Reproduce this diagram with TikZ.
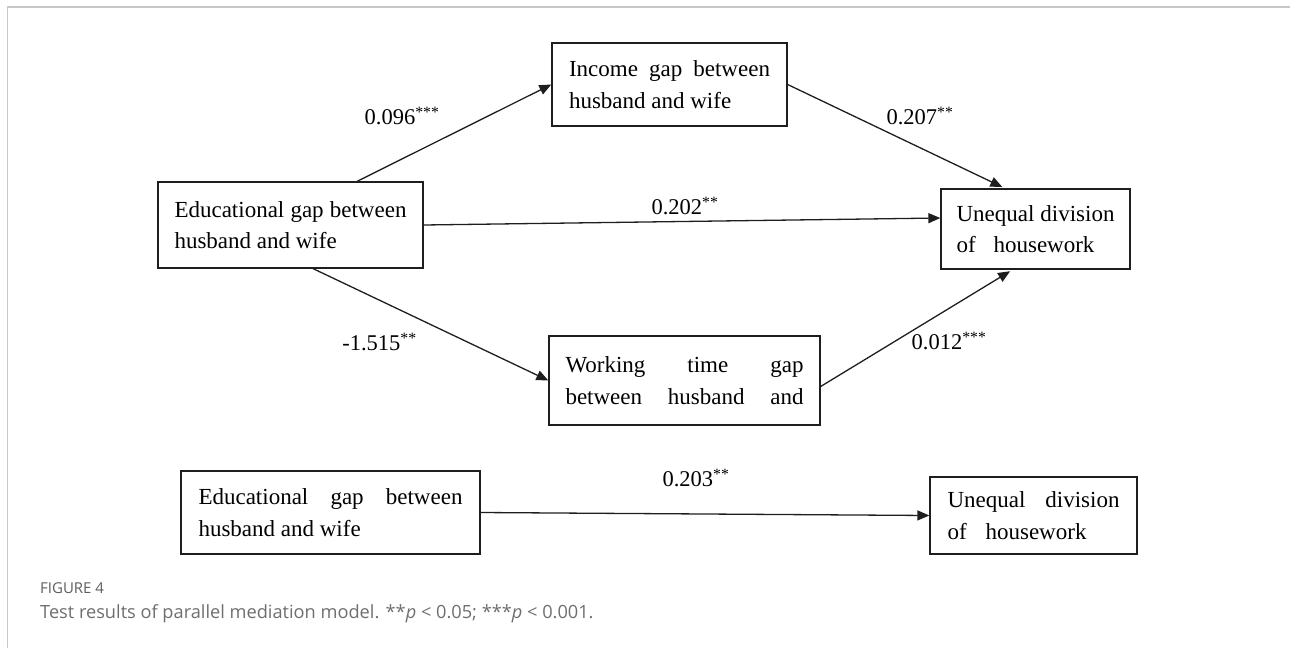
\documentclass[tikz,border=0pt]{standalone}
\usepackage{fontspec}
\setmainfont{Liberation Serif}
\newfontfamily\legendefont{Open Sans}
\usetikzlibrary{arrows.meta,calc}
\definecolor{trait}{HTML}{1E1E1E}
\definecolor{cadre}{HTML}{C8C8C8}
\definecolor{legende}{HTML}{6E6E6E}
\newcommand\etire[2]{\makebox[#1][s]{#2}}

\tikzset{boite/.style 2 args = {draw = trait, line width = 1.3pt, rectangle,
                                minimum width = #1, minimum height = #2,
                                inner sep = 0pt, align = left,
                                font = \fontsize{23}{31.5}\selectfont},
         fleche/.style = {draw = trait, line width = 1.3pt,
                          -{Triangle[length=12pt,width=10pt]}},
         coef/.style = {font = \fontsize{22.5}{26}\selectfont, inner sep = 0pt},
         legende/.style = {anchor = base west, text = legende, inner sep = 0pt}
        }

\begin{document}
\begin{tikzpicture}[x=1pt, y=-1pt]
  \useasboundingbox (0,0) rectangle (1290,648);
  \draw[cadre, line width = 1.2pt] (7.5,648) -- (7.5,7) -- (1290,7);

  \node[boite={265pt}{86pt}] (E1) at (290.5,225)
       {\etire{232pt}{Educational gap between}\\husband and wife};
  \node[boite={235pt}{83pt}] (M1) at (669.5,84.5)
       {\etire{201pt}{Income gap between}\\husband and wife};
  \node[boite={189pt}{80pt}] (Y1) at (1035.5,229)
       {\etire{158pt}{Unequal division}\\\etire{138pt}{of housework}};
  \node[boite={271pt}{89pt}] (M2) at (684.5,380.5)
       {\etire{238pt}{Working time gap}\\\etire{238pt}{between husband and}};
  \node[boite={299pt}{83pt}] (E2) at (330.5,512.5)
       {\etire{264pt}{Educational gap between}\\husband and wife};
  \node[boite={207pt}{77pt}] (Y2) at (1033.5,515.5)
       {\etire{172pt}{Unequal division}\\\etire{139pt}{of housework}};

  \draw[fleche] ($(E1.north west)!0.75!(E1.north east)$) -- (M1.west);
  \draw[fleche, shorten >= 3pt] (M1.east) -- ($(Y1.north west)!0.34!(Y1.north east)$);
  \draw[fleche] (E1.east) -- ([yshift=11pt]Y1.west);
  \draw[fleche] ($(E1.south west)!0.585!(E1.south east)$) -- (M2.west);
  \draw[fleche, shorten >= 3pt] ([yshift=-6pt]M2.east) -- ($(Y1.south west)!0.38!(Y1.south east)$);
  \draw[fleche] (E2.east) -- (Y2.west);

  \node[coef] (c1) at (402,116) {0.096\textsuperscript{***}};
  \node[coef] (c2) at (920,116) {0.207\textsuperscript{**}};
  \node[coef] (c3) at (685,206) {0.202\textsuperscript{**}};
  \node[coef] (c4) at (379.5,342) {-1.515\textsuperscript{**}};
  \node[coef] (c5) at (949,341) {0.012\textsuperscript{***}};
  \node[coef] (c6) at (696,478) {0.203\textsuperscript{**}};

  \node[legende, font = \legendefont\fontsize{15}{18}\selectfont, text = legende!85!black] (fig) at (40,593) {FIGURE 4};
  \node[legende, font = \legendefont\fontsize{18.2}{22}\selectfont] (leg) at (40,618)
       {Test results of parallel mediation model. **\textit{p} < 0.05; ***\textit{p} < 0.001.};
\end{tikzpicture}
\end{document}
